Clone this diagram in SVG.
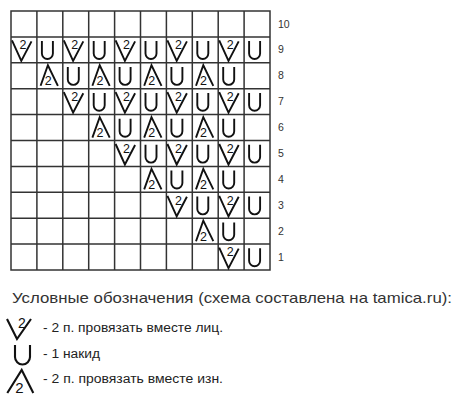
<svg xmlns="http://www.w3.org/2000/svg" xmlns:xlink="http://www.w3.org/1999/xlink" width="460" height="407" viewBox="0 0 460 407">
<style>
.grid{fill:none;stroke:#333;stroke-width:1.5}
.sym{fill:none;stroke:#111;stroke-width:1.9;stroke-linejoin:miter}
.lsym{fill:none;stroke:#111;stroke-width:2.1}
.two{font-family:"Liberation Sans",Arial,sans-serif;font-size:12.5px;fill:#111;text-anchor:middle}
.num{font-family:"Liberation Sans",Arial,sans-serif;font-size:10.5px;fill:#333}
.ttl{font-family:"Liberation Sans",Arial,sans-serif;font-size:15px;fill:#333}
.leg{font-family:"Liberation Sans",Arial,sans-serif;font-size:12.5px;fill:#222}
</style>
<defs>
<path id="v" class="sym" d="M1,3.5 L10.3,24 L20.5,4.5"/>
<path id="a" class="sym" d="M3.7,23 L11,2.5 L21,23"/>
<path id="u" class="sym" d="M5,4.2 V16.6 A5.5,5.5 0 0 0 16,16.6 V4.2"/>
</defs>
<rect width="460" height="407" fill="#fff"/>
<g id="grid">
<rect class="grid" x="11" y="11" width="259" height="259"/>
<path class="grid" d="M36.9,11V270M62.8,11V270M88.7,11V270M114.6,11V270M140.5,11V270M166.4,11V270M192.3,11V270M218.2,11V270M244.1,11V270M11,36.9H270M11,62.8H270M11,88.7H270M11,114.6H270M11,140.5H270M11,166.4H270M11,192.3H270M11,218.2H270M11,244.1H270"/>
</g>
<g id="row-numbers">
<text class="num" x="278" y="27.5">10</text>
<text class="num" x="278" y="53.4">9</text>
<text class="num" x="278" y="79.3">8</text>
<text class="num" x="278" y="105.2">7</text>
<text class="num" x="278" y="131.1">6</text>
<text class="num" x="278" y="157">5</text>
<text class="num" x="278" y="182.9">4</text>
<text class="num" x="278" y="208.8">3</text>
<text class="num" x="278" y="234.7">2</text>
<text class="num" x="278" y="260.6">1</text>
</g>
<g id="row9">
<use xlink:href="#v" x="11" y="36.9"/><text class="two" x="23" y="49.2">2</text>
<use xlink:href="#u" x="36.9" y="36.9"/>
<use xlink:href="#v" x="62.8" y="36.9"/><text class="two" x="74.8" y="49.2">2</text>
<use xlink:href="#u" x="88.7" y="36.9"/>
<use xlink:href="#v" x="114.6" y="36.9"/><text class="two" x="126.6" y="49.2">2</text>
<use xlink:href="#u" x="140.5" y="36.9"/>
<use xlink:href="#v" x="166.4" y="36.9"/><text class="two" x="178.4" y="49.2">2</text>
<use xlink:href="#u" x="192.3" y="36.9"/>
<use xlink:href="#v" x="218.2" y="36.9"/><text class="two" x="230.2" y="49.2">2</text>
<use xlink:href="#u" x="244.1" y="36.9"/>
</g>
<g id="row8">
<use xlink:href="#a" x="36.9" y="62.8"/><text class="two" x="48.2" y="85.3">2</text>
<use xlink:href="#u" x="62.8" y="62.8"/>
<use xlink:href="#a" x="88.7" y="62.8"/><text class="two" x="100" y="85.3">2</text>
<use xlink:href="#u" x="114.6" y="62.8"/>
<use xlink:href="#a" x="140.5" y="62.8"/><text class="two" x="151.8" y="85.3">2</text>
<use xlink:href="#u" x="166.4" y="62.8"/>
<use xlink:href="#a" x="192.3" y="62.8"/><text class="two" x="203.6" y="85.3">2</text>
<use xlink:href="#u" x="218.2" y="62.8"/>
</g>
<g id="row7">
<use xlink:href="#v" x="62.8" y="88.7"/><text class="two" x="74.8" y="101">2</text>
<use xlink:href="#u" x="88.7" y="88.7"/>
<use xlink:href="#v" x="114.6" y="88.7"/><text class="two" x="126.6" y="101">2</text>
<use xlink:href="#u" x="140.5" y="88.7"/>
<use xlink:href="#v" x="166.4" y="88.7"/><text class="two" x="178.4" y="101">2</text>
<use xlink:href="#u" x="192.3" y="88.7"/>
<use xlink:href="#v" x="218.2" y="88.7"/><text class="two" x="230.2" y="101">2</text>
<use xlink:href="#u" x="244.1" y="88.7"/>
</g>
<g id="row6">
<use xlink:href="#a" x="88.7" y="114.6"/><text class="two" x="100" y="137.1">2</text>
<use xlink:href="#u" x="114.6" y="114.6"/>
<use xlink:href="#a" x="140.5" y="114.6"/><text class="two" x="151.8" y="137.1">2</text>
<use xlink:href="#u" x="166.4" y="114.6"/>
<use xlink:href="#a" x="192.3" y="114.6"/><text class="two" x="203.6" y="137.1">2</text>
<use xlink:href="#u" x="218.2" y="114.6"/>
</g>
<g id="row5">
<use xlink:href="#v" x="114.6" y="140.5"/><text class="two" x="126.6" y="152.8">2</text>
<use xlink:href="#u" x="140.5" y="140.5"/>
<use xlink:href="#v" x="166.4" y="140.5"/><text class="two" x="178.4" y="152.8">2</text>
<use xlink:href="#u" x="192.3" y="140.5"/>
<use xlink:href="#v" x="218.2" y="140.5"/><text class="two" x="230.2" y="152.8">2</text>
<use xlink:href="#u" x="244.1" y="140.5"/>
</g>
<g id="row4">
<use xlink:href="#a" x="140.5" y="166.4"/><text class="two" x="151.8" y="188.9">2</text>
<use xlink:href="#u" x="166.4" y="166.4"/>
<use xlink:href="#a" x="192.3" y="166.4"/><text class="two" x="203.6" y="188.9">2</text>
<use xlink:href="#u" x="218.2" y="166.4"/>
</g>
<g id="row3">
<use xlink:href="#v" x="166.4" y="192.3"/><text class="two" x="178.4" y="204.6">2</text>
<use xlink:href="#u" x="192.3" y="192.3"/>
<use xlink:href="#v" x="218.2" y="192.3"/><text class="two" x="230.2" y="204.6">2</text>
<use xlink:href="#u" x="244.1" y="192.3"/>
</g>
<g id="row2">
<use xlink:href="#a" x="192.3" y="218.2"/><text class="two" x="203.6" y="240.7">2</text>
<use xlink:href="#u" x="218.2" y="218.2"/>
</g>
<g id="row1">
<use xlink:href="#v" x="218.2" y="244.1"/><text class="two" x="230.2" y="256.4">2</text>
<use xlink:href="#u" x="244.1" y="244.1"/>
</g>
<g id="legend">
<text class="ttl" x="12" y="303" textLength="440" lengthAdjust="spacingAndGlyphs">Условные обозначения (схема составлена на tamica.ru):</text>
<path class="lsym" d="M7,319 L17,339 L31,319"/>
<text class="two" x="22" y="328" style="font-size:14px">2</text>
<text class="leg" x="43" y="332" textLength="180" lengthAdjust="spacingAndGlyphs">- 2 п. провязать вместе лиц.</text>
<path class="lsym" d="M15,345 V357 A7.5,7.5 0 0 0 30,357 V345"/>
<text class="leg" x="43" y="358" textLength="57" lengthAdjust="spacingAndGlyphs">- 1 накид</text>
<path class="lsym" d="M7.3,393 L21.7,370 L33.3,393"/>
<text class="two" x="19.5" y="392.5" style="font-size:15px">2</text>
<text class="leg" x="43" y="383" textLength="180" lengthAdjust="spacingAndGlyphs">- 2 п. провязать вместе изн.</text>
</g>
</svg>
